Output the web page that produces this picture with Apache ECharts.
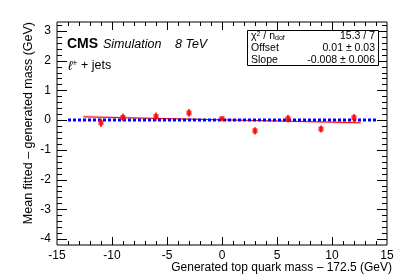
<!DOCTYPE html>
<html><head><meta charset="utf-8">
<script src="https://cdn.jsdelivr.net/npm/echarts@6/dist/echarts.min.js"></script>
<style>html,body{margin:0;padding:0;background:#fff}#c{width:407px;height:277px}</style>
</head><body><div id="c"></div>
<script>
// ---- data ----
const massX   = [-11, -9, -6, -3, 0, 3, 6, 9, 12];
const meanDiff = [-0.09, 0.09, 0.12, 0.24, 0.05, -0.36, 0.05, -0.30, 0.08];
const errDiff  = [0.14, 0.13, 0.14, 0.13, 0.05, 0.12, 0.13, 0.12, 0.13];
const fitX = [-12.6, 12.6];
const fitY = [0.11, -0.09];
const bandX  = [-12.6, -6, 0, 6, 12.6];
const bandLo = [0.06, 0.03, -0.01, -0.06, -0.13];
const bandHi = [0.16, 0.09, 0.03, -0.01, -0.05];
const refX = [-14, 14];
const refY = [0, 0];
const xRange = [-15, 15];
const yRange = [-4.2, 3.3];
// tick positions (axis values)
const xMajorTicks = [-10, -5, 0, 5, 10];
const xMinorTicks = [-14, -13, -12, -11, -9, -8, -7, -6, -4, -3, -2, -1, 1, 2, 3, 4, 6, 7, 8, 9, 11, 12, 13, 14];
const yMajorTicks = [-4, -3, -2, -1, 0, 1, 2, 3];
const yMinorTicks = [-3.8, -3.6, -3.4, -3.2, -2.8, -2.6, -2.4, -2.2, -1.8, -1.6, -1.4, -1.2,
                     -0.8, -0.6, -0.4, -0.2, 0.2, 0.4, 0.6, 0.8, 1.2, 1.4, 1.6, 1.8,
                     2.2, 2.4, 2.6, 2.8, 3.2];
const statsLabels = ['χ² / n_dof', 'Offset', 'Slope'];
const statsValues = ['15.3 / 7', '0.01 ± 0.03', '-0.008 ± 0.006'];

const FONT = '"Liberation Sans", Arial, Helvetica, sans-serif';
const chart = echarts.init(document.getElementById('c'), null, {renderer: 'canvas'});

const pts = massX.map((x, i) => [x, meanDiff[i], errDiff[i]]);
// tick items: [axis (0 = x, 1 = y), value, length px]
const tickItems = []
  .concat(xMajorTicks.map(v => [0, v, 8]))
  .concat(xMinorTicks.map(v => [0, v, 4]))
  .concat(yMajorTicks.map(v => [1, v, 10]))
  .concat(yMinorTicks.map(v => [1, v, 5]));

chart.setOption({
  animation: false,
  grid: {left: 57, right: 20, top: 22, bottom: 32, show: true,
         borderColor: '#000', borderWidth: 1, backgroundColor: 'transparent'},
  xAxis: {
    type: 'value', min: xRange[0], max: xRange[1], interval: 5,
    axisLine: {show: false}, axisTick: {show: false}, splitLine: {show: false},
    axisLabel: {show: true, color: '#000', fontFamily: FONT, fontSize: 12, margin: 5,
                showMinLabel: true, showMaxLabel: true}
  },
  yAxis: {
    type: 'value', min: yRange[0], max: yRange[1], splitNumber: 7,
    axisLine: {show: false}, axisTick: {show: false}, splitLine: {show: false},
    axisLabel: {show: true, color: '#000', fontFamily: FONT, fontSize: 12, margin: 6,
                showMinLabel: false, showMaxLabel: false}
  },
  series: [
    {
      type: 'custom', z: 2, silent: true, data: [0],
      renderItem: function (params, api) {
        const up = bandX.map((x, i) => api.coord([x, bandHi[i]]));
        const lo = bandX.map((x, i) => api.coord([x, bandLo[i]])).reverse();
        return {type: 'polygon', shape: {points: up.concat(lo)},
                style: {fill: 'rgba(255,160,160,0.55)', stroke: null}};
      }
    },
    {
      type: 'line', z: 3, silent: true,
      data: fitX.map((x, i) => [x, fitY[i]]), symbol: 'none',
      lineStyle: {color: '#ff0000', width: 1}
    },
    {
      type: 'line', z: 4, silent: true,
      data: refX.map((x, i) => [x, refY[i]]), symbol: 'none',
      lineStyle: {color: '#0000ff', width: 3, type: [3, 2]}
    },
    {
      type: 'custom', z: 5, silent: true, data: pts,
      renderItem: function (params, api) {
        const x = api.value(0), y = api.value(1), e = api.value(2);
        const a = api.coord([x, y - e]), b = api.coord([x, y + e]);
        return {type: 'line', shape: {x1: a[0], y1: a[1], x2: b[0], y2: b[1]},
                style: {stroke: '#ff0000', lineWidth: 1.5}};
      }
    },
    {
      type: 'scatter', z: 6, silent: true,
      data: pts.map(p => [p[0], p[1]]), symbol: 'rect', symbolSize: [5, 5],
      itemStyle: {color: '#ff0000'}
    },
    {
      // frame ticks on all four sides, placed through the axis scales
      type: 'custom', z: 7, silent: true, clip: false, data: tickItems,
      renderItem: function (params, api) {
        const axis = api.value(0), v = api.value(1), len = api.value(2);
        const st = {stroke: '#000', lineWidth: 1};
        if (axis === 0) {
          const b = api.coord([v, yRange[0]]), t = api.coord([v, yRange[1]]);
          const x = Math.round(b[0]) + 0.5;
          return {type: 'group', children: [
            {type: 'line', shape: {x1: x, y1: b[1], x2: x, y2: b[1] - len}, style: st},
            {type: 'line', shape: {x1: x, y1: t[1], x2: x, y2: t[1] + len}, style: st}
          ]};
        }
        const l = api.coord([xRange[0], v]), r = api.coord([xRange[1], v]);
        const y = Math.round(l[1]) + 0.5;
        return {type: 'group', children: [
          {type: 'line', shape: {x1: l[0], y1: y, x2: l[0] + len, y2: y}, style: st},
          {type: 'line', shape: {x1: r[0], y1: y, x2: r[0] - len, y2: y}, style: st}
        ]};
      }
    }
  ],
  graphic: [
    {type: 'text', left: 67, top: 37, style: {text: 'CMS', font: 'bold 14px ' + FONT, fill: '#000'}},
    {type: 'text', left: 103, top: 38, style: {text: 'Simulation', font: 'italic 12.5px ' + FONT, fill: '#000'}},
    {type: 'text', left: 175, top: 38, style: {text: '8 TeV', font: 'italic 12.5px ' + FONT, fill: '#000'}},
    {type: 'text', left: 68, top: 59, style: {
      text: '{l|ℓ}{s|+}{n| + jets}',
      rich: {
        l: {font: 'italic 13px ' + FONT, fill: '#000'},
        s: {font: '9px ' + FONT, fill: '#000', verticalAlign: 'top', padding: [0, 0, 5, 0]},
        n: {font: '12.5px ' + FONT, fill: '#000'}
      }}},
    {type: 'rect', shape: {x: 247.5, y: 30.5, width: 131, height: 35},
     style: {fill: '#fff', stroke: '#000', lineWidth: 1}, z: 10},
    {type: 'text', x: 251, y: 36, z: 11, style: {
      text: '{a|χ}{b|2}{a| / n}{c|dof}', verticalAlign: 'middle',
      rich: {a: {font: '10.5px ' + FONT, fill: '#000'},
             b: {font: '7px ' + FONT, fill: '#000', verticalAlign: 'top', padding: [0,0,4,0]},
             c: {font: '7px ' + FONT, fill: '#000', verticalAlign: 'bottom', padding: [3,0,0,0]}}}},
    {type: 'text', x: 251, y: 48, z: 11, style: {text: statsLabels[1], font: '10.5px ' + FONT, fill: '#000', verticalAlign: 'middle'}},
    {type: 'text', x: 251, y: 60, z: 11, style: {text: statsLabels[2], font: '10.5px ' + FONT, fill: '#000', verticalAlign: 'middle'}},
    {type: 'text', x: 375, y: 36, z: 11, style: {text: statsValues[0], font: '10.5px ' + FONT, fill: '#000', align: 'right', verticalAlign: 'middle'}},
    {type: 'text', x: 375, y: 48, z: 11, style: {text: statsValues[1], font: '10.5px ' + FONT, fill: '#000', align: 'right', verticalAlign: 'middle'}},
    {type: 'text', x: 375, y: 60, z: 11, style: {text: statsValues[2], font: '10.5px ' + FONT, fill: '#000', align: 'right', verticalAlign: 'middle'}},
    {type: 'text', x: 392, y: 268, style: {text: 'Generated top quark mass – 172.5 (GeV)', font: '12px ' + FONT, fill: '#000', align: 'right', verticalAlign: 'middle'}},
    {type: 'text', x: 29, y: 22, rotation: Math.PI / 2, style: {text: 'Mean fitted – generated mass (GeV)', font: '12.5px ' + FONT, fill: '#000', align: 'right', verticalAlign: 'middle'}}
  ]
});
</script></body></html>
